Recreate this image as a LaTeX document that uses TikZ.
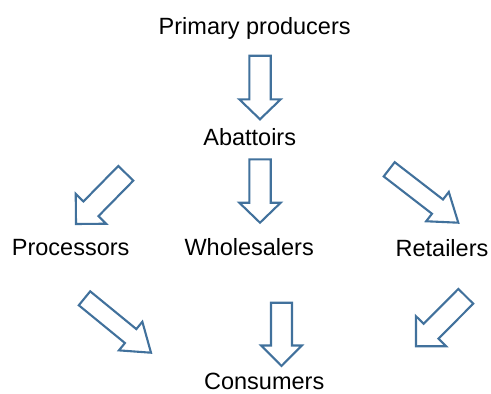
\documentclass[tikz,border=0pt]{standalone}
\usepackage{fontspec}
\setmainfont{Liberation Sans}
\usetikzlibrary{calc}
\definecolor{arrowblue}{HTML}{41719C}
% #1 tail coordinate, #2 tip coordinate, #3 shaft half width, #4 head half width, #5 head length
\newcommand\blockarr[5]{%
  \coordinate (hb) at ($(#2)!#5!(#1)$);
  \draw[blockarrow]
    ($(#1)!#3!90:(#2)$) -- ($(hb)!#3!90:(#2)$) -- ($(hb)!#4!90:(#2)$) --
    (#2) --
    ($(hb)!#4!-90:(#2)$) -- ($(hb)!#3!-90:(#2)$) -- ($(#1)!#3!-90:(#2)$) -- cycle;
}
\begin{document}
\begin{tikzpicture}[x=1pt,y=-1pt,
  lbl/.style={anchor=base,inner sep=0pt,text=black,font=\fontsize{23.5}{28}\selectfont},
  blockarrow/.style={draw=arrowblue,line width=2.1pt,fill=white,line join=miter}]
\useasboundingbox (0,0) rectangle (491,394);
% labels
\node[lbl] (prim)   at (254.7,34.3) {Primary producers};
\node[lbl] (abat)   at (249.7,145.7) {Abattoirs};
\node[lbl] (proc)   at (70.7,255.7) {Processors};
\node[lbl] (whole)  at (249.2,255.8) {Wholesalers};
\node[lbl] (retail) at (442,256) {Retailers};
\node[lbl] (cons)   at (264.2,389) {Consumers};
% arrow end points
\coordinate (a1t) at (260,55.7);   \coordinate (a1h) at (260,119.3);
\coordinate (a2t) at (260,159.3);  \coordinate (a2h) at (260,222.7);
\coordinate (a3t) at (281.5,302.7);\coordinate (a3h) at (281.5,366);
\coordinate (tlt) at (125.8,173.3);\coordinate (tlh) at (76,224);
\coordinate (brt) at (465.8,296.3);\coordinate (brh) at (416,346.3);
\coordinate (trt) at (389.2,169.3);\coordinate (trh) at (458.3,222.7);
\coordinate (blt) at (84.5,298.3); \coordinate (blh) at (151,352.7);
% arrows
\blockarr{a1t}{a1h}{10.7pt}{20.7pt}{20pt}
\blockarr{a2t}{a2h}{10.7pt}{20.7pt}{20pt}
\blockarr{a3t}{a3h}{10.5pt}{20.3pt}{20.5pt}
\blockarr{tlt}{tlh}{10.5pt}{21.3pt}{21.3pt}
\blockarr{brt}{brh}{10.5pt}{21.3pt}{21.3pt}
\blockarr{trt}{trh}{9pt}{18.5pt}{26.3pt}
\blockarr{blt}{blh}{9pt}{18.5pt}{26.3pt}
\end{tikzpicture}
\end{document}
